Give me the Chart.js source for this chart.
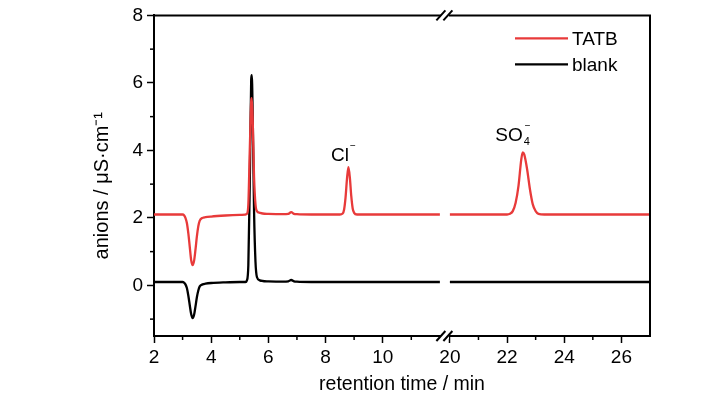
<!DOCTYPE html>
<html><head><meta charset="utf-8">
<script src="https://cdn.jsdelivr.net/npm/chart.js@4.4.1/dist/chart.umd.min.js"></script>
<style>html,body{margin:0;padding:0;background:#fff}#wrap{width:728px;height:399px}</style>
</head><body><div id="wrap"><canvas id="c" width="728" height="399"></canvas></div>
<script>
// ---- data ----
const leftTime   = [2.0,2.5,3.0,3.05,3.1,3.15,3.2,3.25,3.3,3.35,3.4,3.45,3.5,3.55,3.6,3.7,3.8,4.0,4.5,5.0,5.2,5.25,5.3,5.35,5.4,5.42,5.45,5.5,5.55,5.6,5.7,5.8,6.0,6.5,6.7,6.8,6.9,7.0,7.5,8.0,8.5,8.6,8.65,8.7,8.75,8.8,8.85,8.9,8.95,9.0,9.1,9.5,10.0,11.0,12.0];
const tatbLeft   = [2.1,2.1,2.1,2.08,2.0,1.85,1.55,1.15,0.75,0.6,0.72,1.05,1.45,1.75,1.92,2.0,2.02,2.04,2.07,2.09,2.1,2.12,2.4,4.0,5.45,5.55,5.0,3.2,2.4,2.2,2.15,2.13,2.12,2.11,2.12,2.17,2.12,2.11,2.1,2.1,2.1,2.13,2.25,2.6,3.15,3.5,3.2,2.65,2.28,2.15,2.1,2.1,2.1,2.1,2.1];
const blankLeft  = [0.1,0.1,0.1,0.08,0.03,-0.08,-0.3,-0.58,-0.85,-0.97,-0.88,-0.63,-0.35,-0.15,-0.03,0.03,0.05,0.07,0.09,0.1,0.1,0.15,0.6,3.0,6.1,6.23,5.2,2.2,0.7,0.25,0.15,0.13,0.12,0.11,0.12,0.16,0.12,0.11,0.1,0.1,0.1,0.1,0.1,0.1,0.1,0.1,0.1,0.1,0.1,0.1,0.1,0.1,0.1,0.1,0.1];
const rightTime  = [20,21,22.0,22.1,22.2,22.3,22.4,22.5,22.55,22.6,22.7,22.8,22.9,23.0,23.1,23.3,24,25,26,27];
const tatbRight  = [2.1,2.1,2.1,2.12,2.2,2.45,2.95,3.75,3.94,3.88,3.45,2.85,2.4,2.2,2.12,2.1,2.1,2.1,2.1,2.1];
const blankRight = [0.1,0.1,0.1,0.1,0.1,0.1,0.1,0.1,0.1,0.1,0.1,0.1,0.1,0.1,0.1,0.1,0.1,0.1,0.1,0.1];
const seriesNames = ['TATB','blank'];
const xMajorTicks = [2,4,6,8,10,20,22,24,26];
const xMinorTicks = [3,5,7,9,11,21,23,25];
const yMajorTicks = [0,2,4,6,8];
const yMinorTicks = [-1,1,3,5,7];
const ionNames   = ['Cl','SO'];
const ionSub     = ['','4'];
const ionTime    = [8.82,22.55];
const ionLabelY  = [3.68,4.29];

// ---- broken axis mapping ----
const BREAK_START = 12, BREAK_END = 20, GAP = 0.35;
const toAxis = t => t <= BREAK_START ? t : t - (BREAK_END - BREAK_START) + GAP;
const fromAxis = u => u <= BREAK_START + 1e-9 ? u : u + (BREAK_END - BREAK_START) - GAP;

function build(lt, lv, rt, rv) {
  const pts = lt.map((t, i) => ({x: toAxis(t), y: lv[i]}));
  pts.push({x: toAxis(BREAK_START) + GAP / 2, y: null});
  rt.forEach((t, i) => pts.push({x: toAxis(t), y: rv[i]}));
  return pts;
}

const RED = '#e83a3a', BLACK = '#000000';
const FAM = "'Liberation Sans', Arial, sans-serif";
Chart.defaults.font.family = FAM;
Chart.defaults.color = '#000';

const decor = {
  id: 'decor',
  afterDraw(chart) {
    const {ctx, chartArea: a, scales: {x, y}} = chart;
    const line = (x1, y1, x2, y2) => { ctx.beginPath(); ctx.moveTo(x1, y1); ctx.lineTo(x2, y2); ctx.stroke(); };
    ctx.save();
    ctx.strokeStyle = '#000';
    ctx.lineWidth = 2;
    ctx.beginPath(); ctx.moveTo(a.left - 1, a.top); ctx.lineTo(a.right, a.top); ctx.lineTo(a.right, a.bottom + 1); ctx.stroke();
    ctx.lineWidth = 1.5;
    xMinorTicks.forEach(t => { const px = x.getPixelForValue(toAxis(t)); line(px, a.bottom, px, a.bottom + 4); });
    yMinorTicks.forEach(v => { const py = y.getPixelForValue(v); line(a.left - 4, py, a.left, py); });
    // axis break
    const xl = x.getPixelForValue(toAxis(BREAK_START)), xr = x.getPixelForValue(toAxis(BREAK_END));
    [a.top, a.bottom].forEach(py => {
      ctx.fillStyle = '#fff';
      ctx.fillRect(xl + 1, py - 3, xr - xl - 2, 6);
      ctx.lineWidth = 2;
      [xl + 1, xr - 2].forEach(cx => line(cx - 4.5, py + 5, cx + 4.5, py - 5));
    });
    // legend
    const lx = a.right - 135;
    chart.data.datasets.forEach((ds, i) => {
      const ly = a.top + 23 + i * 26;
      ctx.strokeStyle = ds.borderColor; ctx.lineWidth = 2.2;
      line(lx, ly, lx + 53, ly);
      ctx.fillStyle = '#000'; ctx.font = '19px ' + FAM;
      ctx.textAlign = 'left'; ctx.textBaseline = 'middle';
      ctx.fillText(ds.label, lx + 57, ly + 1);
    });
    // ion labels
    ionNames.forEach((n, i) => {
      const px = x.getPixelForValue(toAxis(ionTime[i]));
      const py = y.getPixelForValue(ionLabelY[i]);
      ctx.fillStyle = '#000'; ctx.textBaseline = 'alphabetic';
      ctx.font = '19px ' + FAM; ctx.textAlign = 'right';
      ctx.fillText(n, px, py);
      ctx.textAlign = 'left';
      if (ionSub[i]) { ctx.font = '11px ' + FAM; ctx.fillText(ionSub[i], px + 1, py + 4); }
      ctx.font = '10px ' + FAM;
      ctx.fillText('\u2212', px + (ionSub[i] ? 2 : 1), py - 12);
    });
    ctx.restore();
  }
};

const tickFont = {family: FAM, size: 19};
new Chart(document.getElementById('c'), {
  type: 'line',
  data: {
    datasets: [
      {label: seriesNames[0], data: build(leftTime, tatbLeft, rightTime, tatbRight), borderColor: RED, backgroundColor: RED, borderWidth: 2.3, pointRadius: 0, cubicInterpolationMode: 'monotone', spanGaps: false},
      {label: seriesNames[1], data: build(leftTime, blankLeft, rightTime, blankRight), borderColor: BLACK, backgroundColor: BLACK, borderWidth: 2.3, pointRadius: 0, cubicInterpolationMode: 'monotone', spanGaps: false}
    ]
  },
  options: {
    responsive: false, animation: false, parsing: true,
    layout: {padding: {left: 90, right: 78, top: 11, bottom: 3}},
    plugins: {legend: {display: false}, tooltip: {enabled: false}},
    scales: {
      x: {
        type: 'linear', min: toAxis(2), max: toAxis(27),
        afterBuildTicks: s => { s.ticks = xMajorTicks.map(t => ({value: toAxis(t)})); },
        afterFit: s => { s.height = 60; },
        ticks: {callback: v => String(Math.round(fromAxis(v))), font: tickFont, color: '#000', padding: 3, maxRotation: 0, autoSkip: false},
        grid: {display: true, drawOnChartArea: false, drawTicks: true, tickLength: 7, tickWidth: 1.5, tickColor: '#000'},
        border: {display: true, color: '#000', width: 2},
        title: {display: true, text: 'retention time / min', font: {family: FAM, size: 19.5}, color: '#000', padding: 0}
      },
      y: {
        type: 'linear', min: -1.5, max: 8,
        afterBuildTicks: s => { s.ticks = yMajorTicks.map(v => ({value: v})); },
        afterFit: s => { s.width = 64; },
        ticks: {font: tickFont, color: '#000', padding: 4},
        grid: {display: true, drawOnChartArea: false, drawTicks: true, tickLength: 7, tickWidth: 1.5, tickColor: '#000'},
        border: {display: true, color: '#000', width: 2},
        title: {display: true, text: 'anions / \u03bcS\u00b7cm\u207b\u00b9\u2002\u2002', font: {family: FAM, size: 20}, color: '#000', padding: 0}
      }
    }
  },
  plugins: [decor]
});
</script></body></html>
